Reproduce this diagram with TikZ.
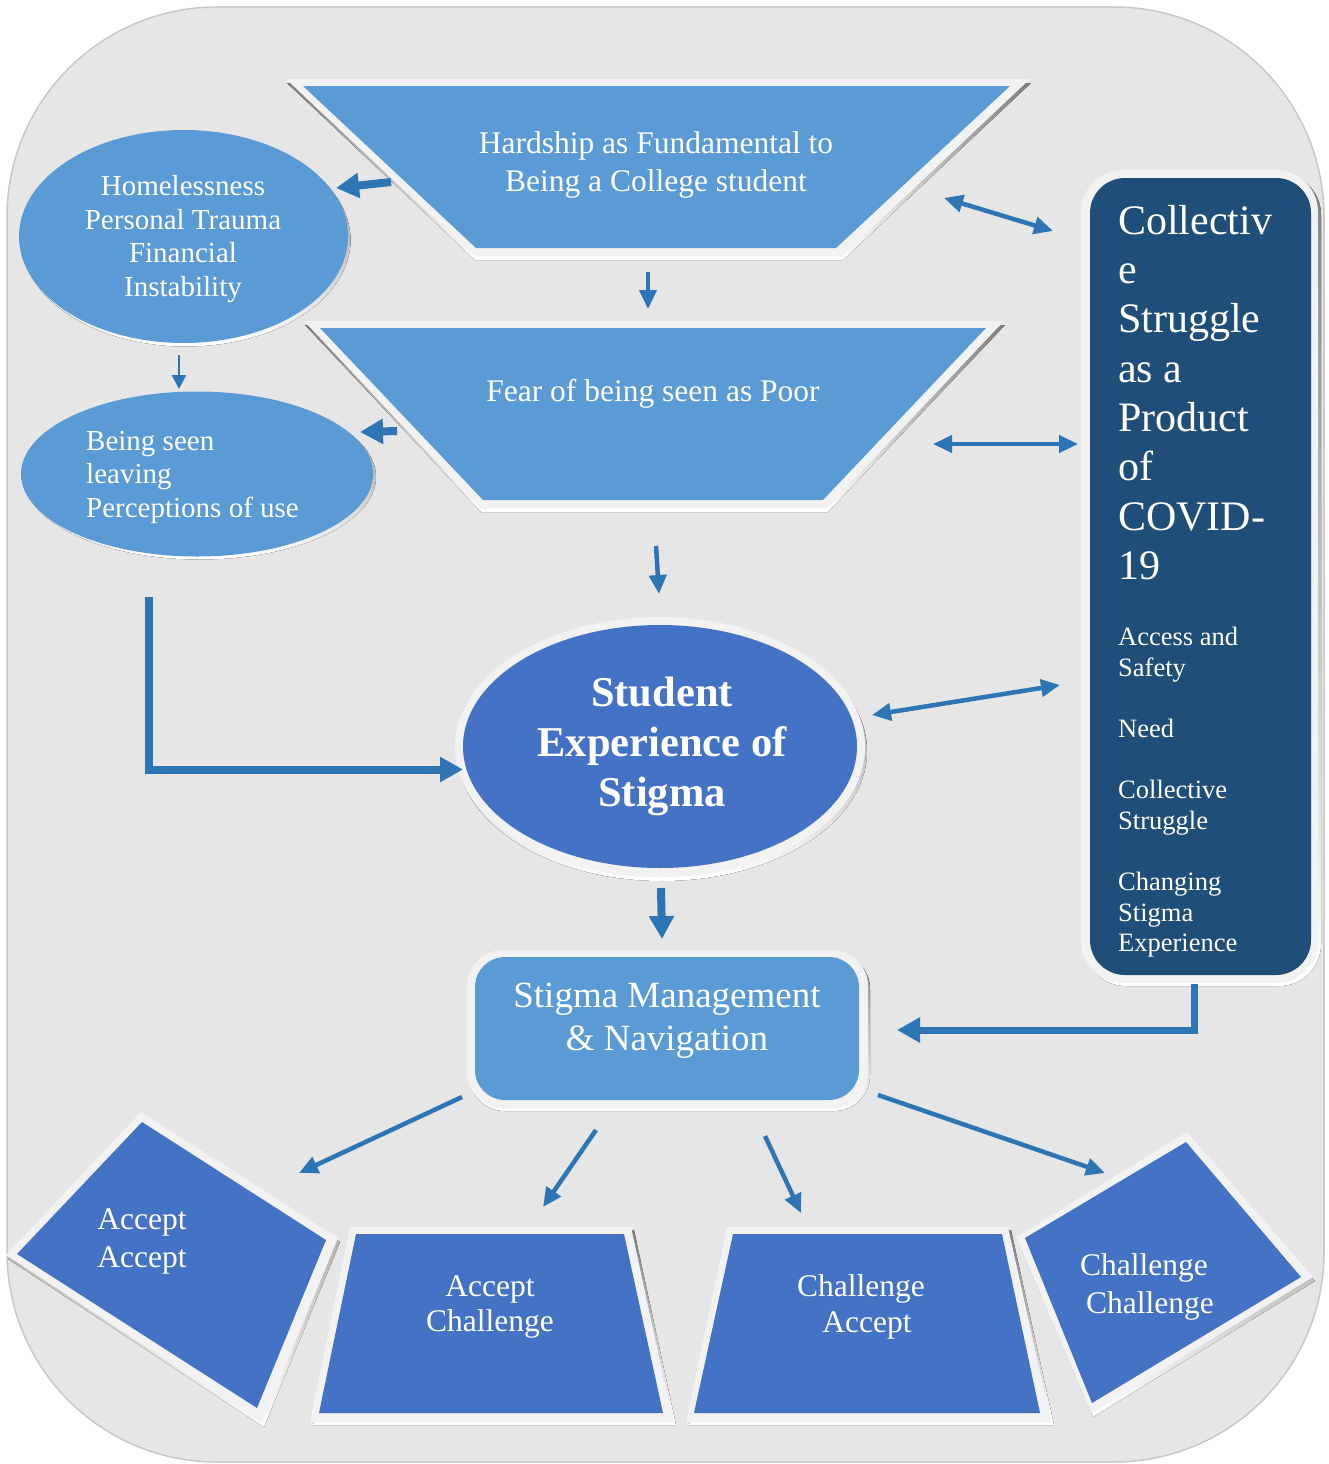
\documentclass[tikz,border=0pt]{standalone}
\usepackage{fontspec}
\setmainfont{Liberation Serif}
\usetikzlibrary{arrows.meta}
\definecolor{bgc}{HTML}{E6E6E6}
\definecolor{bgline}{HTML}{C8C8C8}
\definecolor{lblue}{HTML}{5B9BD5}
\definecolor{mblue}{HTML}{4472C4}
\definecolor{dblue}{HTML}{1F4E79}
\definecolor{arrowc}{HTML}{2E75B6}
\definecolor{rim}{HTML}{F2F2F2}
\definecolor{shade}{HTML}{8497B0}
\tikzset{
  txt/.style={text=white, inner sep=0pt, align=center},
  bigarr/.style={draw=arrowc, line width=8pt, -{Triangle[length=23pt,width=24pt]}},
  midarr/.style={draw=arrowc, line width=4.5pt, -{Triangle[length=19pt,width=17pt]}},
  dblarr/.style={draw=arrowc, line width=4.5pt, {Triangle[length=19pt,width=17pt]}-{Triangle[length=19pt,width=17pt]}},
  thinarr/.style={draw=arrowc, line width=2.5pt, -{Triangle[length=14pt,width=14pt]}},
}
\begin{document}
\begin{tikzpicture}[x=1pt,y=-1pt]
\useasboundingbox (0,0) rectangle (1328,1464);
% background
\draw[fill=bgc, draw=bgline, line width=1.5pt, rounded corners=210pt] (7,7) rectangle (1324,1462);

% Hardship trapezoid
\fill[shade] (287,83) -- (1031,83) -- (843,260) -- (475,260) -- cycle;
\fill[rim] (286,79) -- (1030,79) -- (842,256) -- (474,256) -- cycle;
\fill[lblue] (303,86) -- (1010,86) -- (836,248) -- (476,248) -- cycle;
\node[txt, font=\fontsize{31.5}{38}\selectfont] (hard) at (656,165) {Hardship as Fundamental to\\Being a College student};

% Fear trapezoid
\fill[shade] (305,325) -- (1005,325) -- (828,512) -- (481,512) -- cycle;
\fill[rim] (304,321) -- (1004,321) -- (827,508) -- (480,508) -- cycle;
\fill[lblue] (320,328) -- (986,328) -- (823,500) -- (483,500) -- cycle;
\node[txt, font=\fontsize{31.5}{38}\selectfont] (fear) at (653,394) {Fear of being seen as Poor};

% Homelessness ellipse
\fill[shade] (186,240) ellipse [x radius=164.5pt, y radius=106.5pt];
\fill[lblue] (183.5,236.5) ellipse [x radius=164.5pt, y radius=106.5pt];
\node[txt, font=\fontsize{29}{33.5}\selectfont] (home) at (183,239) {Homelessness\\Personal Trauma\\Financial\\Instability};

% Being seen ellipse
\fill[shade] (200,477) ellipse [x radius=176pt, y radius=82.5pt];
\fill[lblue] (197,474) ellipse [x radius=176pt, y radius=82.5pt];
\node[txt, align=left, anchor=west, font=\fontsize{29}{33.5}\selectfont] (seen) at (86,477) {Being seen\\leaving\\Perceptions of use};

% Student ellipse
\fill[shade] (662,751) ellipse [x radius=205pt, y radius=130pt];
\fill[rim] (660,747) ellipse [x radius=205pt, y radius=130pt];
\fill[mblue] (660,746.5) ellipse [x radius=197pt, y radius=121.5pt];
\node[txt, font=\bfseries\fontsize{42.5}{50}\selectfont] (stud) at (662,746) {Student\\Experience of\\Stigma};

% Stigma management box
\fill[shade, rounded corners=36pt] (469,953) rectangle (870,1111);
\fill[rim, rounded corners=36pt] (467,950) rectangle (868,1108);
\fill[lblue, rounded corners=30pt] (475,957) rectangle (859,1100);
\node[txt, font=\fontsize{37}{43}\selectfont] (stig) at (667,1021) {Stigma Management\\\& Navigation};

% Collective box
\fill[shade, rounded corners=42pt] (1084,173) rectangle (1321,986);
\fill[rim, rounded corners=42pt] (1081,170) rectangle (1318,983);
\fill[dblue, rounded corners=35pt] (1090,178) rectangle (1311,975);
\node[txt, align=left, anchor=north west, font=\fontsize{42}{49.3}\selectfont] (coll) at (1118,205) {Collectiv\\e\\Struggle\\as a\\Product\\of\\COVID-\\19};
\node[txt, align=left, anchor=north west, font=\fontsize{26.5}{30.7}\selectfont] (items) at (1118,627) {Access and\\Safety\\[30.5pt]Need\\[30.5pt]Collective\\Struggle\\[30.5pt]Changing\\Stigma\\Experience};

% Accept Accept
\fill[shade] (143,1116) -- (340,1242) -- (264,1427) -- (8,1259) -- cycle;
\fill[rim] (141,1112) -- (338,1238) -- (262,1423) -- (6,1255) -- cycle;
\fill[mblue] (142,1122) -- (326,1240) -- (257,1408) -- (17,1254) -- cycle;
\node[txt, font=\fontsize{31.5}{38}\selectfont] (aa) at (142,1241) {Accept\\Accept};

% Accept Challenge
\fill[shade] (353,1230) -- (634,1230) -- (676,1425) -- (313,1425) -- cycle;
\fill[rim] (350,1227) -- (631,1227) -- (673,1422) -- (310,1422) -- cycle;
\fill[mblue] (356,1234) -- (624,1234) -- (663,1413) -- (319,1413) -- cycle;
\node[txt, font=\fontsize{31.5}{35.5}\selectfont] (ac) at (490,1307) {Accept\\Challenge};

% Challenge Accept
\fill[shade] (730,1230) -- (1011,1230) -- (1054,1425) -- (689,1425) -- cycle;
\fill[rim] (727,1227) -- (1008,1227) -- (1051,1422) -- (686,1422) -- cycle;
\fill[mblue] (733,1234) -- (1002,1234) -- (1040,1413) -- (694,1413) -- cycle;
\node[txt, font=\fontsize{31.5}{35.5}\selectfont] (ca) at (861,1307) {Challenge\\\hspace*{12pt}Accept};

% Challenge Challenge
\fill[shade] (1189,1136) -- (1315,1281) -- (1093,1417) -- (1018,1241) -- cycle;
\fill[rim] (1187,1132) -- (1313,1277) -- (1091,1413) -- (1016,1237) -- cycle;
\fill[mblue] (1186,1142) -- (1301,1277) -- (1092,1403) -- (1025,1238) -- cycle;
\node[txt, font=\fontsize{31.5}{38}\selectfont] (cc) at (1144,1287) {Challenge\\\hspace*{12pt}Challenge};

% connector end points
\coordinate (h1) at (391,182);   \coordinate (h2) at (336,188);
\coordinate (hf1) at (648,272);  \coordinate (hf2) at (648,309);
\coordinate (hs1) at (179,355);  \coordinate (hs2) at (179,389);
\coordinate (fs1) at (397,431);  \coordinate (fs2) at (360,432);
\coordinate (hc1) at (944,198);  \coordinate (hc2) at (1053,231);
\coordinate (fc1) at (933,444);  \coordinate (fc2) at (1078,444);
\coordinate (ft1) at (656,546);  \coordinate (ft2) at (659,594);
\coordinate (tc1) at (872,715);  \coordinate (tc2) at (1060,685);
\coordinate (el1) at (149,597);  \coordinate (el2) at (463,769.5);
\coordinate (tg1) at (661,888);  \coordinate (tg2) at (662,939);
\coordinate (cg1) at (1194.5,984); \coordinate (cg2) at (897,1030);
\coordinate (b1) at (462,1097);  \coordinate (b1e) at (299,1173);
\coordinate (b2) at (596,1130);  \coordinate (b2e) at (543,1207);
\coordinate (b3) at (765,1136);  \coordinate (b3e) at (801,1213);
\coordinate (b4) at (878,1095);  \coordinate (b4e) at (1105,1173);

% connectors
\draw[bigarr] (h1) -- (h2);
\draw[midarr] (hf1) -- (hf2);
\draw[thinarr] (hs1) -- (hs2);
\draw[bigarr] (fs1) -- (fs2);
\draw[dblarr] (hc1) -- (hc2);
\draw[dblarr] (fc1) -- (fc2);
\draw[midarr] (ft1) -- (ft2);
\draw[dblarr] (tc1) -- (tc2);
\draw[bigarr] (el1) |- (el2);
\draw[bigarr] (tg1) -- (tg2);
\draw[bigarr, line width=7pt] (cg1) |- (cg2);
\draw[midarr] (b1) -- (b1e);
\draw[midarr] (b2) -- (b2e);
\draw[midarr] (b3) -- (b3e);
\draw[midarr] (b4) -- (b4e);
\end{tikzpicture}
\end{document}
